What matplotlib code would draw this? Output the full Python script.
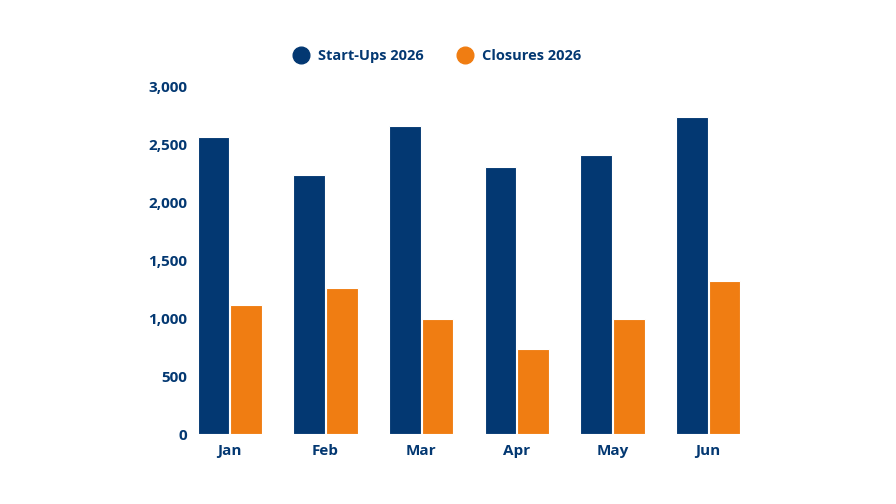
import matplotlib
matplotlib.use("Agg")
import matplotlib.pyplot as plt
import numpy as np
from matplotlib.lines import Line2D
from matplotlib.ticker import FuncFormatter, MultipleLocator

months = ["Jan", "Feb", "Mar", "Apr", "May", "Jun"]
startups = [2565, 2240, 2665, 2310, 2410, 2740]
closures = [1112, 1262, 992, 732, 992, 1322]
series_names = ["Start-Ups 2026", "Closures 2026"]

BLUE = "#033872"
ORANGE = "#F07D12"

plt.rcParams['font.family'] = ['Open Sans', 'DejaVu Sans']

fig = plt.figure(figsize=(8.96, 5.04), dpi=100)
ax = fig.add_axes([182/896, 1-434/504, (756-182)/896, (434-87)/504])

x = np.arange(len(months))
w = 0.33
ax.bar(x - w/2 - 0.005, startups, width=w, color=BLUE, edgecolor="white", linewidth=0.8)
ax.bar(x + w/2 + 0.005, closures, width=w, color=ORANGE, edgecolor="white", linewidth=0.8)

ax.set_xlim(-0.5, len(months) - 0.5)
ax.set_ylim(0, 3000)
ax.yaxis.set_major_locator(MultipleLocator(500))
ax.yaxis.set_major_formatter(FuncFormatter(lambda v, p: f"{int(v):,}"))
ax.set_xticks(x)
ax.set_xticklabels(months)
for s in ax.spines.values():
    s.set_visible(False)
ax.tick_params(axis='both', length=0, labelsize=11, labelcolor=BLUE)
ax.tick_params(axis='y', pad=-4)
ax.tick_params(axis='x', pad=7)
for lab in ax.get_xticklabels() + ax.get_yticklabels():
    lab.set_fontweight('bold')

handles = [Line2D([], [], marker='o', linestyle='', markersize=12, color=c) for c in (BLUE, ORANGE)]
leg = fig.legend(handles, series_names, loc='center', bbox_to_anchor=(434/896, 1-56/504),
                 ncol=2, frameon=False, handletextpad=0.2, columnspacing=1.8,
                 prop={'size': 10.5, 'weight': 'bold'})
for t in leg.get_texts():
    t.set_color(BLUE)

fig.savefig("out.png", dpi=100)
